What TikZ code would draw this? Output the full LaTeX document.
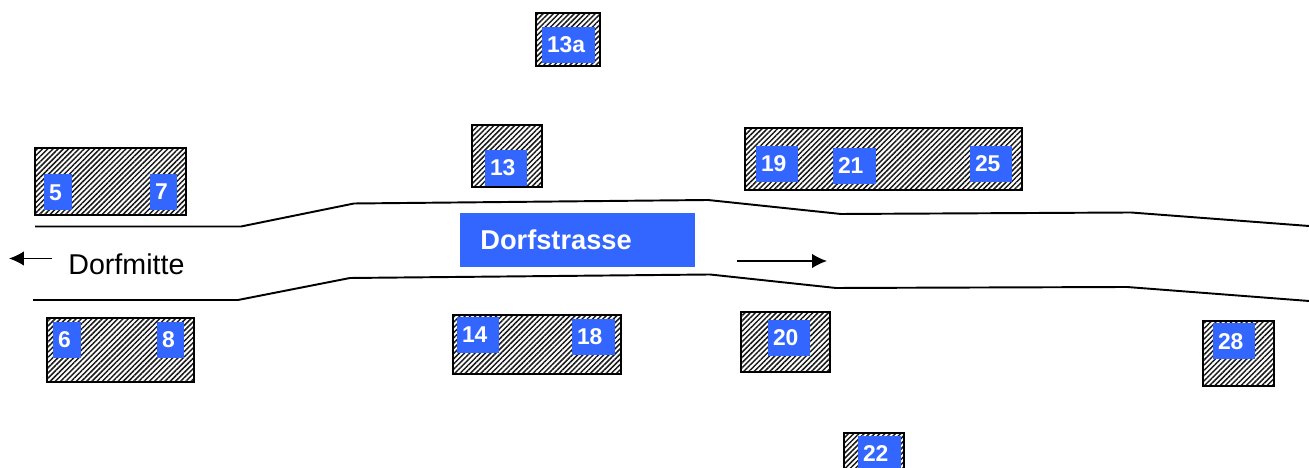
\documentclass[tikz,border=0pt]{standalone}
\usepackage{fontspec}
\setmainfont{Liberation Sans}
\usepackage{xcolor}
\usepackage{tikz}
\usetikzlibrary{calc}
\usetikzlibrary{arrows.meta}
\usetikzlibrary{shapes}
\usetikzlibrary{positioning}
\usetikzlibrary{patterns.meta}
\definecolor{signblue}{HTML}{3366FF}

\begin{document}
\begin{tikzpicture}[
  house/.style={rectangle, draw=black, line width=1.1pt, inner sep=0pt,
    pattern={Lines[angle=45, distance=2.1pt, line width=0.85pt]}, pattern color=black!90},
  nr/.style={rectangle, fill=signblue, text=white, inner xsep=0.1cm, inner ysep=0pt,
    text width=#1, align=left, minimum height=0.72cm, font=\bfseries\fontsize{13}{15}\selectfont},
  nr/.default=0.64cm,
  road/.style={line width=1.1pt, line join=round}
]
\useasboundingbox (0, 0) rectangle (26.18, 9.36);
\draw [road] (0.70, 4.83) -- (4.82, 4.83) -- (7.08, 5.29) -- (14.16, 5.36) -- (16.82, 5.08) -- (22.62, 5.11) -- (26.18, 4.84);
\draw [road] (0.66, 3.36) -- (4.76, 3.36) -- (7.00, 3.80) -- (14.20, 3.87) -- (16.72, 3.60) -- (22.54, 3.62) -- (26.18, 3.34);
\node [house, minimum width=1.28cm, minimum height=1.06cm] (H13a) at (11.36, 8.57) {};
\node [nr=0.86cm] (L13a) at (11.37, 8.46) {13a};
\node [house, minimum width=1.40cm, minimum height=1.24cm] (H13) at (10.14, 6.24) {};
\node [nr] (L13) at (10.12, 6.00) {13};
\node [house, minimum width=3.02cm, minimum height=1.34cm] (H5) at (2.21, 5.73) {};
\node [nr=0.36cm] (L5) at (1.16, 5.51) {5};
\node [nr=0.34cm] (L7) at (3.27, 5.52) {7};
\node [house, minimum width=2.94cm, minimum height=1.28cm] (H6) at (2.41, 2.36) {};
\node [nr=0.36cm] (L6) at (1.34, 2.56) {6};
\node [nr=0.34cm] (L8) at (3.41, 2.56) {8};
\node [house, minimum width=3.36cm, minimum height=1.18cm] (H14) at (10.74, 2.47) {};
\node [nr] (L14) at (9.56, 2.66) {14};
\node [nr=0.66cm] (L18) at (11.87, 2.62) {18};
\node [house, minimum width=5.54cm, minimum height=1.24cm] (H19) at (17.67, 6.18) {};
\node [nr] (L19) at (15.54, 6.08) {19};
\node [nr=0.66cm] (L21) at (17.09, 6.04) {21};
\node [nr] (L25) at (19.82, 6.08) {25};
\node [house, minimum width=1.78cm, minimum height=1.19cm] (H20) at (15.71, 2.52) {};
\node [nr] (L20) at (15.78, 2.60) {20};
\node [house, minimum width=1.20cm, minimum height=1.18cm] (H22) at (17.48, 0.11) {};
\node [nr=0.66cm] (L22) at (17.59, 0.28) {22};
\node [house, minimum width=1.42cm, minimum height=1.30cm] (H28) at (24.77, 2.29) {};
\node [nr] (L28) at (24.68, 2.53) {28};
\node [rectangle, fill=signblue, text=white, anchor=west, inner xsep=0.4cm, inner ysep=0pt,
  text width=3.9cm, minimum height=1.07cm, align=left,
  font=\bfseries\fontsize{15.5}{18}\selectfont] (street) at (9.20, 4.56) {Dorfstrasse};
\node [anchor=base west, inner sep=0pt, font=\fontsize{16.3}{19}\selectfont] (mitte) at (1.36, 3.86) {Dorfmitte};
\coordinate (westA) at (1.04, 4.19);
\coordinate (westB) at (0.18, 4.19);
\coordinate (eastA) at (14.74, 4.14);
\coordinate (eastB) at (16.54, 4.14);
\draw [-{Latex[length=3mm, width=2.9mm]}, line width=0.8pt, draw = black] (westA) to (westB);
\draw [-{Latex[length=3mm, width=2.9mm]}, line width=0.8pt, draw = black] (eastA) to (eastB);
\end{tikzpicture}
\end{document}
